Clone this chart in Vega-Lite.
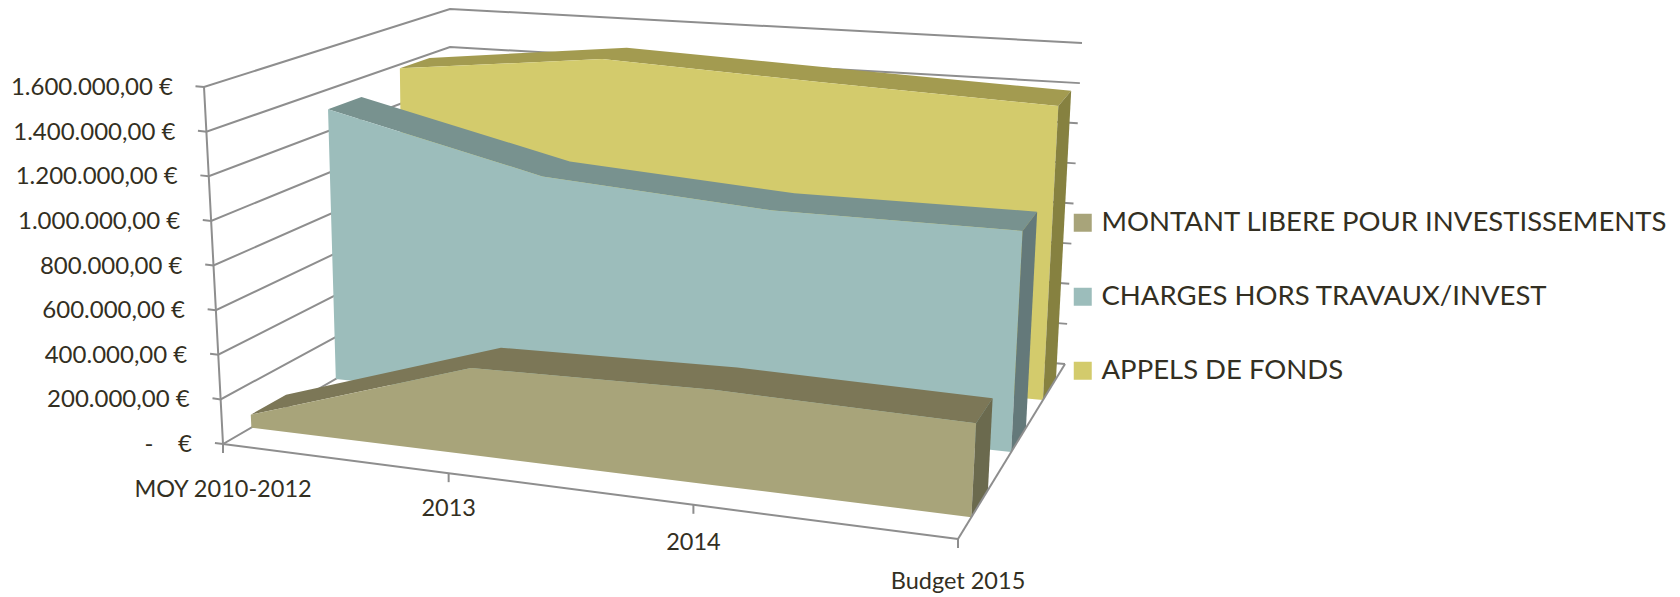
{
"$schema":"https://vega.github.io/schema/vega-lite/v6.json",
"width":1680,"height":597,"padding":0,
"autosize":{"type":"fit","contains":"padding"},
"background":"white",
"view":{"stroke":null},
"datasets":{
"series":[
{"category":"MOY 2010-2012","series":"APPELS DE FONDS","value":1380000},
{"category":"2013","series":"APPELS DE FONDS","value":1495000},
{"category":"2014","series":"APPELS DE FONDS","value":1453000},
{"category":"Budget 2015","series":"APPELS DE FONDS","value":1415000},
{"category":"MOY 2010-2012","series":"CHARGES HORS TRAVAUX/INVEST","value":1305000},
{"category":"2013","series":"CHARGES HORS TRAVAUX/INVEST","value":1070000},
{"category":"2014","series":"CHARGES HORS TRAVAUX/INVEST","value":1005000},
{"category":"Budget 2015","series":"CHARGES HORS TRAVAUX/INVEST","value":1013000},
{"category":"MOY 2010-2012","series":"MONTANT LIBERE POUR INVESTISSEMENTS","value":59000},
{"category":"2013","series":"MONTANT LIBERE POUR INVESTISSEMENTS","value":391000},
{"category":"2014","series":"MONTANT LIBERE POUR INVESTISSEMENTS","value":419000},
{"category":"Budget 2015","series":"MONTANT LIBERE POUR INVESTISSEMENTS","value":406000}
],
"ticks":[
{"value":0,"label":"-\u00a0\u00a0\u00a0\u00a0€"},
{"value":200000,"label":"200.000,00 €"},
{"value":400000,"label":"400.000,00 €"},
{"value":600000,"label":"600.000,00 €"},
{"value":800000,"label":"800.000,00 €"},
{"value":1000000,"label":"1.000.000,00 €"},
{"value":1200000,"label":"1.200.000,00 €"},
{"value":1400000,"label":"1.400.000,00 €"},
{"value":1600000,"label":"1.600.000,00 €"}
],
"categories":[
{"category":"MOY 2010-2012"},
{"category":"2013"},
{"category":"2014"},
{"category":"Budget 2015"}
]
},
"encoding":{
"x":{"field":"px","type":"quantitative","scale":{"domain":[0,1680],"nice":false,"zero":false},"axis":null},
"y":{"field":"py","type":"quantitative","scale":{"domain":[597,0],"nice":false,"zero":false},"axis":null}
},
"layer":[
{
"data":{"name":"ticks"},
"transform":[
{"calculate":"[[-0.011,0,0],[0,0,1],[0,1,2],[1,1,3]]","as":"verts"},
{"flatten":["verts"],"as":["v"]},
{"calculate":"datum.v[0]","as":"c"},{"calculate":"datum.v[1]","as":"d"},{"calculate":"datum.v[2]","as":"ord"},
{"calculate":"datum.value/1600000","as":"t"},
{"calculate":"(1-datum.t)*((1-datum.d)*(223+735*datum.c)+datum.d*(450+615*datum.c))+datum.t*((1-datum.d)*(204+773*datum.c)+datum.d*(450+632*datum.c))","as":"px"},
{"calculate":"(1-datum.t)*((1-datum.d)*(444+95*datum.c)+datum.d*(313+51*datum.c))+datum.t*((1-datum.d)*(87+75*datum.c)+datum.d*(9+34*datum.c))","as":"py"}
],
"mark":{"type":"line","stroke":"#8e8e8e","strokeWidth":2},
"encoding":{"detail":{"field":"value"},"order":{"field":"ord","type":"quantitative"}}
},
{
"data":{"name":"series"},
"transform":[
{"calculate":"indexof(['MOY 2010-2012','2013','2014','Budget 2015'],datum.category)","as":"idx"},
{"calculate":"[0,0.307,0.64,1][datum.idx]","as":"c"},
{"calculate":"datum.series=='APPELS DE FONDS'?0.794:(datum.series=='CHARGES HORS TRAVAUX/INVEST'?0.497:0.125)","as":"df"},
{"calculate":"datum.series=='APPELS DE FONDS'?0.916:(datum.series=='CHARGES HORS TRAVAUX/INVEST'?0.635:0.28)","as":"db"},
{"calculate":"datum.value/1600000","as":"tv"},
{"calculate":"datum.idx==3?['top','front','side']:['top','front']","as":"faces"},
{"flatten":["faces"],"as":["face"]},
{"calculate":"datum.face=='top'?[[datum.df,datum.tv,datum.idx],[datum.db,datum.tv,10-datum.idx]]:(datum.face=='front'?[[datum.df,datum.tv,datum.idx],[datum.df,0,10-datum.idx]]:[[datum.df,datum.tv,0],[datum.db,datum.tv,1],[datum.db,0,2],[datum.df,0,3]])","as":"verts"},
{"flatten":["verts"],"as":["v"]},
{"calculate":"datum.v[0]","as":"d"},{"calculate":"datum.v[1]","as":"t"},{"calculate":"datum.v[2]","as":"ord"},
{"calculate":"datum.face=='front'?datum.series:datum.series+' '+datum.face","as":"key"},
{"calculate":"(1-datum.t)*((1-datum.d)*(223+735*datum.c)+datum.d*(450+615*datum.c))+datum.t*((1-datum.d)*(204+773*datum.c)+datum.d*(450+632*datum.c))","as":"px"},
{"calculate":"(1-datum.t)*((1-datum.d)*(444+95*datum.c)+datum.d*(313+51*datum.c))+datum.t*((1-datum.d)*(87+75*datum.c)+datum.d*(9+34*datum.c))","as":"py"}
],
"mark":{"type":"line","strokeWidth":0,"stroke":null},
"encoding":{
"detail":{"field":"key"},
"order":{"field":"ord","type":"quantitative"},
"fill":{"field":"key","type":"nominal",
"scale":{"domain":["MONTANT LIBERE POUR INVESTISSEMENTS","CHARGES HORS TRAVAUX/INVEST","APPELS DE FONDS","MONTANT LIBERE POUR INVESTISSEMENTS top","CHARGES HORS TRAVAUX/INVEST top","APPELS DE FONDS top","MONTANT LIBERE POUR INVESTISSEMENTS side","CHARGES HORS TRAVAUX/INVEST side","APPELS DE FONDS side"],
"range":["#a8a47a","#9cbdbb","#d3cb6c","#7c7757","#78928f","#a39b50","#6b6a4e","#64797a","#868140"]},
"legend":{"values":["MONTANT LIBERE POUR INVESTISSEMENTS","CHARGES HORS TRAVAUX/INVEST","APPELS DE FONDS"],"orient":"none","legendX":1069,"legendY":209,"title":null,"symbolType":"square","symbolSize":324,"symbolStrokeWidth":0,"labelFont":"Lato","labelFontSize":27.5,"labelColor":"#332f22","labelLimit":700,"labelOffset":5,"rowPadding":45,"symbolOpacity":1}}
}
},
{
"data":{"name":"ticks"},
"transform":[
{"calculate":"0","as":"c"},{"calculate":"0","as":"d"},
{"calculate":"datum.value/1600000","as":"t"},
{"calculate":"(1-datum.t)*223+datum.t*204","as":"px"},
{"calculate":"(1-datum.t)*444+datum.t*87","as":"py"}
],
"layer":[
{"mark":{"type":"line","stroke":"#8e8e8e","strokeWidth":2},"encoding":{"order":{"field":"value","type":"quantitative"}}},
{"mark":{"type":"text","align":"right","baseline":"middle","dx":-31,"dy":1,"font":"Lato","fontSize":24,"color":"#332f22"},"encoding":{"text":{"field":"label"}}}
]
},
{
"data":{"name":"categories"},
"transform":[
{"calculate":"{'MOY 2010-2012':0,'2013':0.307,'2014':0.64,'Budget 2015':1}[datum.category]","as":"c"},
{"calculate":"223+735*datum.c","as":"fx"},
{"calculate":"444+95*datum.c","as":"fy"},
{"calculate":"[[0,0],[0,9]]","as":"stub"},
{"flatten":["stub"],"as":["s"]},
{"calculate":"datum.fx","as":"px"},
{"calculate":"datum.fy+datum.s[1]","as":"py"}
],
"mark":{"type":"line","stroke":"#8e8e8e","strokeWidth":2},
"encoding":{"detail":{"field":"category"}}
},
{
"data":{"name":"categories"},
"transform":[
{"calculate":"{'MOY 2010-2012':0,'2013':0.307,'2014':0.64,'Budget 2015':1}[datum.category]","as":"c"},
{"calculate":"223+735*datum.c","as":"px"},
{"calculate":"444+95*datum.c","as":"py"}
],
"mark":{"type":"line","stroke":"#8e8e8e","strokeWidth":2},
"encoding":{"order":{"field":"c","type":"quantitative"}}
},
{
"data":{"name":"categories"},
"transform":[
{"filter":"datum.category=='Budget 2015'"},
{"calculate":"[0,1]","as":"ds"},
{"flatten":["ds"],"as":["d"]},
{"calculate":"(1-datum.d)*958+datum.d*1065","as":"px"},
{"calculate":"(1-datum.d)*539+datum.d*364","as":"py"}
],
"mark":{"type":"line","stroke":"#8e8e8e","strokeWidth":2},
"encoding":{"order":{"field":"d","type":"quantitative"}}
},
{
"data":{"name":"categories"},
"transform":[
{"calculate":"{'MOY 2010-2012':0,'2013':0.307,'2014':0.64,'Budget 2015':1}[datum.category]","as":"c"},
{"calculate":"223+735*datum.c","as":"px"},
{"calculate":"444+95*datum.c+{'MOY 2010-2012':46,'2013':36,'2014':38,'Budget 2015':43}[datum.category]","as":"py"}
],
"mark":{"type":"text","align":"center","baseline":"middle","font":"Lato","fontSize":23.5,"color":"#332f22"},
"encoding":{"text":{"field":"category"}}
}
]
}
